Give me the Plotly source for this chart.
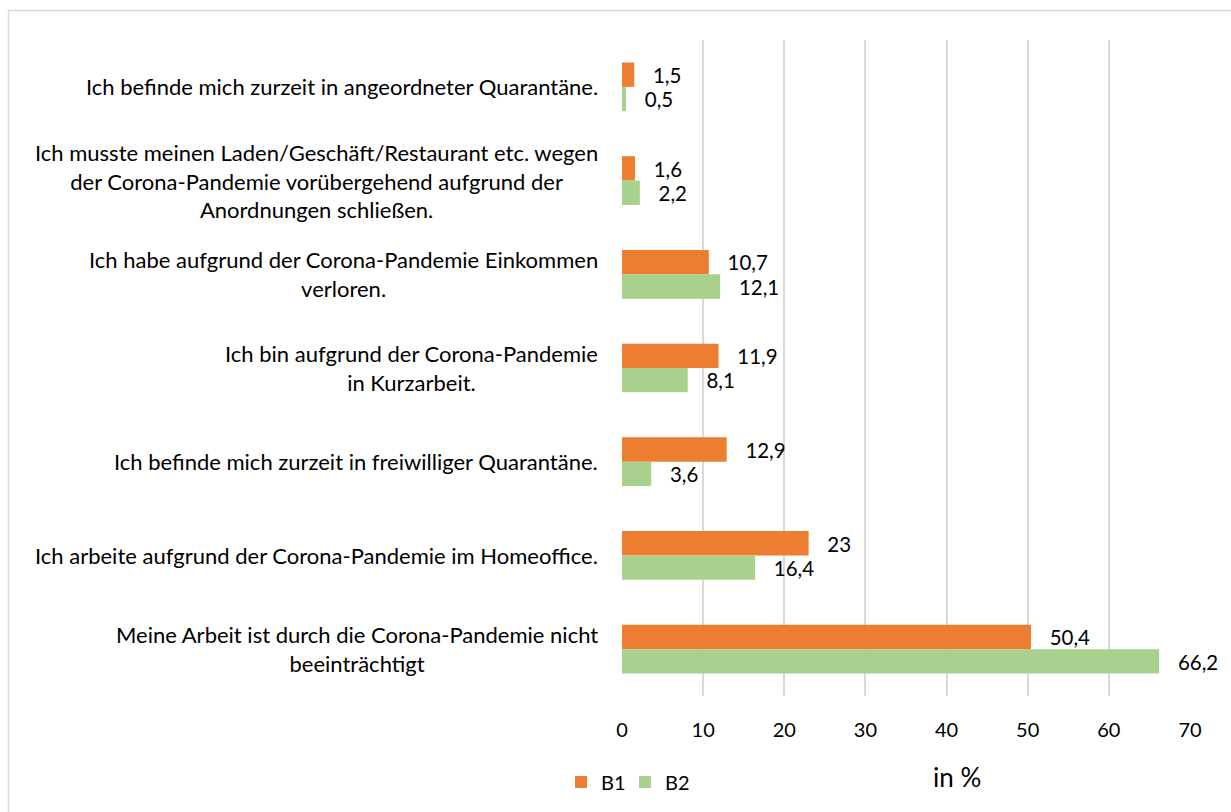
import plotly.graph_objects as go

categories = [
    "Ich befinde mich zurzeit in angeordneter Quarantäne.",
    "Ich musste meinen Laden/Geschäft/Restaurant etc. wegen<br>der Corona-Pandemie vorübergehend aufgrund der<br>Anordnungen schließen.",
    "Ich habe aufgrund der Corona-Pandemie Einkommen<br>verloren.",
    "Ich bin aufgrund der Corona-Pandemie<br>in Kurzarbeit.",
    "Ich befinde mich zurzeit in freiwilliger Quarantäne.",
    "Ich arbeite aufgrund der Corona-Pandemie im Homeoffice.",
    "Meine Arbeit ist durch die Corona-Pandemie nicht<br>beeinträchtigt",
]
b1 = [1.5, 1.6, 10.7, 11.9, 12.9, 23, 50.4]
b2 = [0.5, 2.2, 12.1, 8.1, 3.6, 16.4, 66.2]
series_names = ["B1", "B2"]
colors = ["#ED7D31", "#A9D18E"]
x_ticks = [0, 10, 20, 30, 40, 50, 60, 70]

FONT = "Lato"
W, H = 1231, 812
L, R, T, B = 622, 41, 40, 115
PW, PH = W - L - R, H - T - B

def fmt(v):
    s = ("%g" % v).replace(".", ",")
    return "\u00a0\u00a0\u00a0" + s

fig = go.Figure()
for name, vals, col in zip(series_names, [b1, b2], colors):
    fig.add_trace(go.Bar(
        y=categories, x=vals, orientation="h", name=name,
        marker=dict(color=col, line=dict(width=0)),
        text=[fmt(v) for v in vals], textposition="outside",
        textfont=dict(family=FONT, size=21, color="#000000"),
        cliponaxis=False,
    ))

for c in categories:
    fig.add_annotation(
        x=(600 - L) / PW, xref="paper", y=c, yref="y", text=c, showarrow=False,
        xanchor="right", yanchor="middle", align="center",
        font=dict(family=FONT, size=22, color="#000000"),
    )

fig.add_annotation(
    x=(957 - L) / PW, xref="paper", y=-(778 - (H - B)) / PH, yref="paper",
    text="in %", showarrow=False, xanchor="center", yanchor="middle",
    font=dict(family=FONT, size=26, color="#000000"),
)

# outer border
fig.add_shape(
    type="rect", xref="paper", yref="paper",
    x0=(8.5 - L) / PW, x1=(1240 - L) / PW,
    y0=-(830 - (H - B)) / PH, y1=((H - B) - 10.5) / PH,
    line=dict(color="#D9D9D9", width=1.5), fillcolor="rgba(0,0,0,0)", layer="below",
)

fig.update_layout(
    width=W, height=H,
    margin=dict(l=L, r=R, t=T, b=B, pad=0),
    paper_bgcolor="white", plot_bgcolor="white",
    barmode="group", bargap=0.48, bargroupgap=0,
    font=dict(family=FONT, size=20, color="#000000"),
    showlegend=True,
    legend=dict(
        orientation="h", x=(561 - L) / PW, xanchor="left",
        y=-(782 - (H - B)) / PH, yanchor="middle",
        font=dict(family=FONT, size=20, color="#000000"),
        itemwidth=30, entrywidth=19, entrywidthmode="pixels",
        bgcolor="rgba(0,0,0,0)",
    ),
    xaxis=dict(
        range=[0, 70], tickvals=x_ticks, ticktext=[str(t) for t in x_ticks],
        showgrid=True, gridcolor="#D9D9D9", gridwidth=1.5,
        zeroline=False, showline=False, ticks="", ticklen=0,
        ticklabelstandoff=20,
        tickfont=dict(family=FONT, size=20, color="#000000"),
        fixedrange=True,
    ),
    yaxis=dict(
        autorange="reversed", showticklabels=False, showgrid=False,
        zeroline=False, showline=False, ticks="", fixedrange=True,
    ),
)

fig.write_html(
    "out.html",
    config={"displayModeBar": False},
    post_script="document.body.style.margin='0';document.body.style.overflow='hidden';",
)
